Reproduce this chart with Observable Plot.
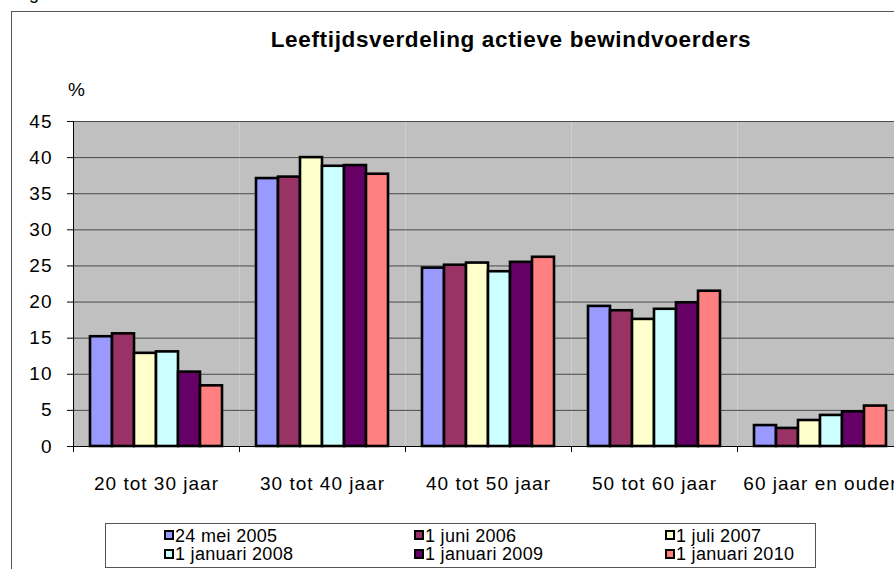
<!DOCTYPE html>
<html><head><meta charset="utf-8">
<script src="https://cdn.jsdelivr.net/npm/d3@7"></script>
<script src="https://cdn.jsdelivr.net/npm/@observablehq/plot@0.6"></script>
<style>
html,body{margin:0;padding:0;background:#fff;overflow:hidden;width:894px;height:569px;}
body{position:relative;font-family:"Liberation Sans",Arial,sans-serif;color:#000;}
#frame{position:absolute;left:11px;top:11px;width:1000px;height:1000px;border-left:1px solid #555;border-top:1px solid #555;box-sizing:border-box;}
#frag{position:absolute;left:29px;top:-17px;font-size:18px;line-height:20px;}
#title{position:absolute;left:0;top:28.5px;width:1022px;text-align:center;font-weight:bold;font-size:22.5px;line-height:22.5px;letter-spacing:0.65px;}
#unit{position:absolute;left:68px;top:79.5px;font-size:19px;line-height:19px;}
#chart{position:absolute;left:0;top:0;}
#chart svg text{letter-spacing:1px;}
#legend{position:absolute;left:105px;top:523px;width:711px;height:45px;border:1px solid #555;box-sizing:border-box;}
.item{position:absolute;font-size:18px;line-height:18px;letter-spacing:0.3px;white-space:nowrap;}
.sw{display:inline-block;width:6px;height:6px;border:2px solid #000;vertical-align:1.5px;margin-right:1px;}
</style>
</head><body>
<div id="frame"></div>
<div id="frag">g</div>
<div id="title">Leeftijdsverdeling actieve bewindvoerders</div>
<div id="unit">%</div>
<div id="chart"></div>
<div id="legend"></div>
<script>
const categories = ["20 tot 30 jaar","30 tot 40 jaar","40 tot 50 jaar","50 tot 60 jaar","60 jaar en ouder"];
const series = ["24 mei 2005","1 juni 2006","1 juli 2007","1 januari 2008","1 januari 2009","1 januari 2010"];
const colors = ["#9999FF","#993366","#FFFFCC","#CCFFFF","#660066","#FF8080"];
const v2005 = [15.2, 37.1, 24.7, 19.4, 2.9];
const v2006 = [15.6, 37.3, 25.1, 18.8, 2.5];
const v2007 = [12.9, 40.0, 25.4, 17.6, 3.6];
const v2008 = [13.1, 38.8, 24.2, 19.0, 4.3];
const v2009 = [10.3, 38.9, 25.5, 19.9, 4.8];
const v2010 = [8.4, 37.7, 26.2, 21.5, 5.6];
const yTicks = [0,5,10,15,20,25,30,35,40,45];

const seriesValues = [v2005, v2006, v2007, v2008, v2009, v2010];
const data = [];
categories.forEach((c, ci) => {
  series.forEach((s, si) => data.push({category: c, series: s, value: seriesValues[si][ci]}));
});

const W = 903, ML = 73, MR = 0, MT = 121, MB = 54, H = 500;
const halfBand = (W - ML - MR) / categories.length / 2;

const plot = Plot.plot({
  width: W, height: H,
  marginLeft: ML, marginRight: MR, marginTop: MT, marginBottom: MB,
  style: {fontFamily: "Liberation Sans, Arial, sans-serif", fontSize: "19px", background: "transparent", color: "black", maxWidth: "none", overflow: "visible"},
  fx: {domain: categories, padding: 0, label: null},
  x: {domain: series, paddingInner: 0, paddingOuter: 0.75, axis: null},
  y: {domain: [0, 45], label: null},
  color: {domain: series, range: colors},
  marks: [
    Plot.frame({fill: "#C0C0C0", stroke: null}),
    Plot.gridY(yTicks, {stroke: "#4a4a4a", strokeOpacity: 1}),
    Plot.barY(data, {fx: "category", x: "series", y: "value", fill: "series", stroke: "black", strokeWidth: 2.6}),
    Plot.ruleY([0], {stroke: "black"}),
    Plot.frame({anchor: "left", facetAnchor: "left", stroke: "black"}),
    Plot.axisY(yTicks, {tickSize: 6, tickPadding: 15, stroke: "black", label: null}),
    Plot.axisFx({anchor: "bottom", tickSize: 0, tickPadding: 30, label: null}),
    Plot.axisFx({anchor: "bottom", tickSize: 6, tickFormat: () => "", dx: -halfBand, label: null, stroke: "black"})
  ]
});
document.getElementById("chart").appendChild(plot);

const color = plot.scale("color");
const legend = document.getElementById("legend");
const colX = [58, 308, 559];
const rowTop = [2.5, 21];
color.domain.forEach((s, i) => {
  const it = document.createElement("div");
  it.className = "item";
  it.style.left = colX[i % 3] + "px";
  it.style.top = rowTop[Math.floor(i / 3)] + "px";
  const sw = document.createElement("span");
  sw.className = "sw";
  sw.style.background = color.range[i];
  it.appendChild(sw);
  it.appendChild(document.createTextNode(s));
  legend.appendChild(it);
});
</script>
</body></html>
